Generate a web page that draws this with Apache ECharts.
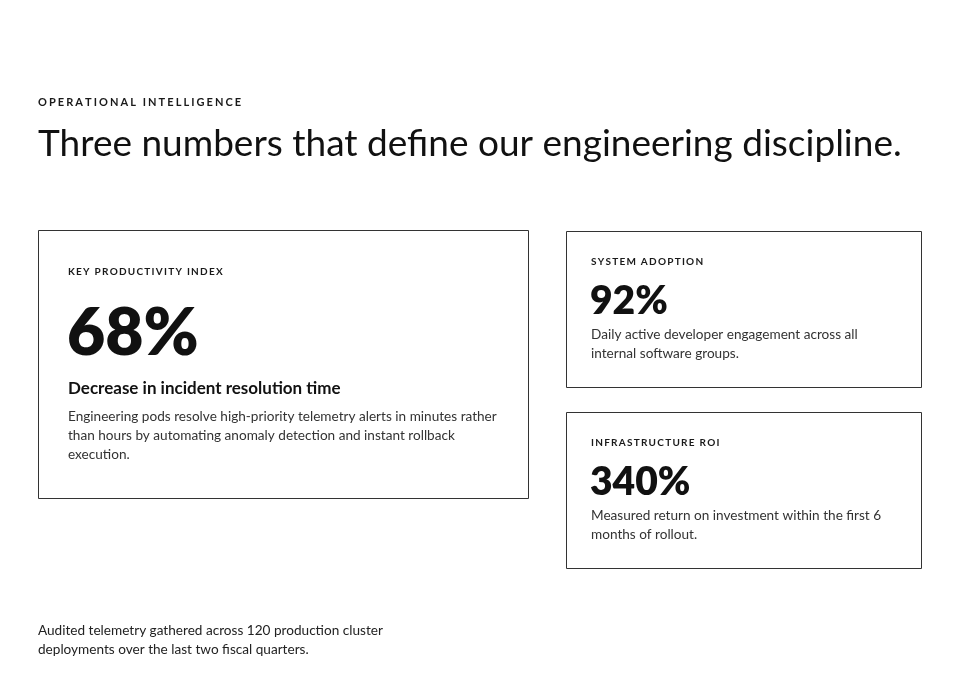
<!DOCTYPE html>
<html>
<head>
<meta charset="utf-8">
<script src="https://cdn.jsdelivr.net/npm/echarts@6/dist/echarts.min.js"></script>
<style>
  html, body { margin: 0; padding: 0; background: #fff; }
  #main { width: 960px; height: 675px; }
</style>
</head>
<body>
<div id="main"></div>
<script>
var eyebrow = 'OPERATIONAL INTELLIGENCE';
var headline = 'Three numbers that define our engineering discipline.';
var metricLabels = ['KEY PRODUCTIVITY INDEX', 'SYSTEM ADOPTION', 'INFRASTRUCTURE ROI'];
var metricValues = [68, 92, 340];
var metricUnit = ['%', '%', '%'];
var metricTitles = ['Decrease in incident resolution time', '', ''];
var metricNotes = [
    'Engineering pods resolve high-priority telemetry alerts in minutes rather\nthan hours by automating anomaly detection and instant rollback\nexecution.',
    'Daily active developer engagement across all\ninternal software groups.',
    'Measured return on investment within the first 6\nmonths of rollout.'
];
var footnote = 'Audited telemetry gathered across 120 production cluster\ndeployments over the last two fiscal quarters.';

var FONT = 'Lato, "Noto Sans", sans-serif';

// spaced caps for the small labels
function spaced(s, n) {
    return s.split('').join(new Array(n + 1).join('\u200A'));
}

// card boxes and offsets inside each card
var cards = [
    { x: 38, y: 230, w: 490, h: 268, pad: 30, labelY: 42, numY: 104, numSize: 66, titleY: 159, noteY: 177 },
    { x: 566, y: 231, w: 355, h: 156, pad: 25, labelY: 31, numY: 70, numSize: 39, titleY: 0, noteY: 94 },
    { x: 566, y: 412, w: 355, h: 156, pad: 25, labelY: 31, numY: 70, numSize: 39, titleY: 0, noteY: 94 }
];

var elements = [
    {
        type: 'text', x: 38, y: 102,
        style: { text: spaced(eyebrow, 3), font: '700 11px ' + FONT, fill: '#1a1a1a', verticalAlign: 'middle' }
    },
    {
        type: 'text', x: 38, y: 144,
        style: { text: headline, font: '400 37px ' + FONT, fill: '#111', verticalAlign: 'middle' }
    },
    {
        type: 'text', x: 38, y: 621,
        style: { text: footnote, font: '400 13.6px ' + FONT, fill: '#222', lineHeight: 19, verticalAlign: 'top' }
    }
];

metricValues.forEach(function (v, i) {
    var c = cards[i];
    elements.push({
        type: 'rect',
        shape: { x: c.x + 0.5, y: c.y + 0.5, width: c.w, height: c.h },
        style: { fill: '#fff', stroke: '#333', lineWidth: 1 }
    });
    elements.push({
        type: 'text', x: c.x + c.pad, y: c.y + c.labelY,
        style: { text: spaced(metricLabels[i], 2), font: '700 10px ' + FONT, fill: '#1a1a1a', verticalAlign: 'middle' }
    });
    elements.push({
        type: 'text', x: c.x + c.pad - 1, y: c.y + c.numY,
        style: { text: v + metricUnit[i], font: '800 ' + c.numSize + 'px ' + FONT, fill: '#111', verticalAlign: 'middle' }
    });
    if (metricTitles[i]) {
        elements.push({
            type: 'text', x: c.x + c.pad, y: c.y + c.titleY,
            style: { text: metricTitles[i], font: '700 17px ' + FONT, fill: '#111', verticalAlign: 'middle' }
        });
    }
    elements.push({
        type: 'text', x: c.x + c.pad, y: c.y + c.noteY,
        style: { text: metricNotes[i], font: '400 13.6px ' + FONT, fill: '#333', lineHeight: 19, verticalAlign: 'top' }
    });
});

var myChart = echarts.init(document.getElementById('main'));
var option = {
    backgroundColor: '#fff',
    graphic: { elements: elements }
};
myChart.setOption(option);
</script>
</body>
</html>
